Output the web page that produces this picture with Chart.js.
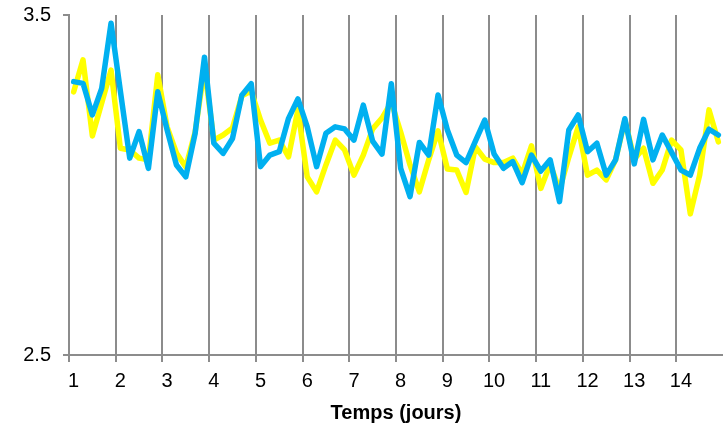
<!DOCTYPE html>
<html>
<head>
<meta charset="utf-8">
<script src="https://cdn.jsdelivr.net/npm/chart.js@4/dist/chart.umd.min.js"></script>
<style>
html,body{margin:0;padding:0;background:#ffffff;}
#wrap{width:723px;height:426px;position:relative;}
</style>
</head>
<body>
<div id="wrap"><canvas id="c"></canvas></div>
<script>
// Tick labels of the x axis (days) and sampling (5 readings per day)
const dayLabels = ['1','2','3','4','5','6','7','8','9','10','11','12','13','14'];
const pointsPerDay = 5;
const yTickValues = [2.5, 3.5];
const xTitle = 'Temps (jours)';

// Blue series (drawn on top)
const blueSeries = [
  3.304, 3.299, 3.206, 3.284, 3.476,
  3.276, 3.079, 3.157, 3.049, 3.274,
  3.162, 3.059, 3.024, 3.152, 3.376,
  3.123, 3.093, 3.137, 3.264, 3.298,
  3.054, 3.088, 3.098, 3.196, 3.253,
  3.171, 3.054, 3.152, 3.171, 3.165,
  3.132, 3.235, 3.129, 3.091, 3.298,
  3.049, 2.966, 3.125, 3.088, 3.265,
  3.162, 3.088, 3.066, 3.129, 3.191,
  3.091, 3.049, 3.069, 3.007, 3.088,
  3.041, 3.074, 2.951, 3.162, 3.206,
  3.098, 3.123, 3.029, 3.074, 3.195,
  3.062, 3.193, 3.074, 3.147, 3.096,
  3.044, 3.029, 3.108, 3.164, 3.147
];

// Yellow series
const yellowSeries = [
  3.274, 3.368, 3.144, 3.241, 3.338,
  3.108, 3.103, 3.079, 3.074, 3.324,
  3.171, 3.094, 3.053, 3.156, 3.344,
  3.132, 3.147, 3.168, 3.262, 3.276,
  3.191, 3.123, 3.132, 3.083, 3.221,
  3.024, 2.980, 3.059, 3.132, 3.103,
  3.029, 3.088, 3.165, 3.197, 3.244,
  3.156, 3.059, 2.980, 3.074, 3.159,
  3.047, 3.044, 2.978, 3.112, 3.076,
  3.066, 3.066, 3.079, 3.032, 3.115,
  2.990, 3.062, 2.985, 3.082, 3.171,
  3.029, 3.044, 3.015, 3.074, 3.191,
  3.076, 3.108, 3.005, 3.044, 3.132,
  3.103, 2.915, 3.029, 3.221, 3.127
];

// Category labels: one per reading
const categories = [];
dayLabels.forEach(function(d){
  for (let k = 0; k < pointsPerDay; k++) categories.push(d + '.' + k);
});

const gridGrey = '#8c8c8c';
const fontFamily = '"Liberation Sans", Arial, sans-serif';

new Chart(document.getElementById('c'), {
  type: 'line',
  data: {
    labels: categories,
    datasets: [
      {
        label: 'bleu',
        data: blueSeries,
        borderColor: '#00b0f0',
        borderWidth: 5.5,
        pointRadius: 0,
        tension: 0,
        fill: false,
        borderJoinStyle: 'round',
        borderCapStyle: 'round'
      },
      {
        label: 'jaune',
        data: yellowSeries,
        borderColor: '#ffff00',
        borderWidth: 5.5,
        pointRadius: 0,
        tension: 0,
        fill: false,
        borderJoinStyle: 'round',
        borderCapStyle: 'round'
      }
    ]
  },
  options: {
    responsive: true,
    maintainAspectRatio: false,
    animation: false,
    events: [],
    layout: { padding: { top: 15, right: 0, left: 0, bottom: 0 } },
    plugins: {
      legend: { display: false },
      tooltip: { enabled: false },
      title: { display: false }
    },
    scales: {
      x: {
        type: 'category',
        offset: true,
        grid: {
          offset: true,
          drawOnChartArea: true,
          drawTicks: true,
          tickLength: 7,
          lineWidth: 2,
          color: function(ctx){ return (ctx.index % pointsPerDay === 0) ? gridGrey : 'rgba(0,0,0,0)'; }
        },
        border: { display: true, color: gridGrey, width: 2 },
        ticks: {
          autoSkip: false,
          maxRotation: 0,
          minRotation: 0,
          padding: 7,
          color: '#000000',
          font: { family: fontFamily, size: 20 },
          callback: function(value, index){
            return (index % pointsPerDay === 0) ? dayLabels[index / pointsPerDay] : '';
          }
        },
        title: {
          display: true,
          text: xTitle,
          color: '#000000',
          font: { family: fontFamily, size: 20, weight: 'bold' },
          padding: { top: 0, bottom: 1 }
        },
        afterFit: function(scale){
          scale.height = 71;
          scale.paddingLeft = 0;
          scale.paddingRight = 0;
        }
      },
      y: {
        type: 'linear',
        min: 2.5,
        max: 3.5,
        grid: {
          drawOnChartArea: false,
          drawTicks: true,
          tickLength: 6,
          lineWidth: 2,
          color: gridGrey
        },
        border: { display: true, color: gridGrey, width: 2 },
        ticks: {
          padding: 12,
          color: '#000000',
          font: { family: fontFamily, size: 20 },
          callback: function(v){ return String(v); }
        },
        afterBuildTicks: function(scale){
          scale.ticks = yTickValues.map(function(v){ return { value: v }; });
        },
        afterFit: function(scale){
          scale.width = 69;
          scale.paddingTop = 0;
          scale.paddingBottom = 0;
        }
      }
    }
  }
});
</script>
</body>
</html>
